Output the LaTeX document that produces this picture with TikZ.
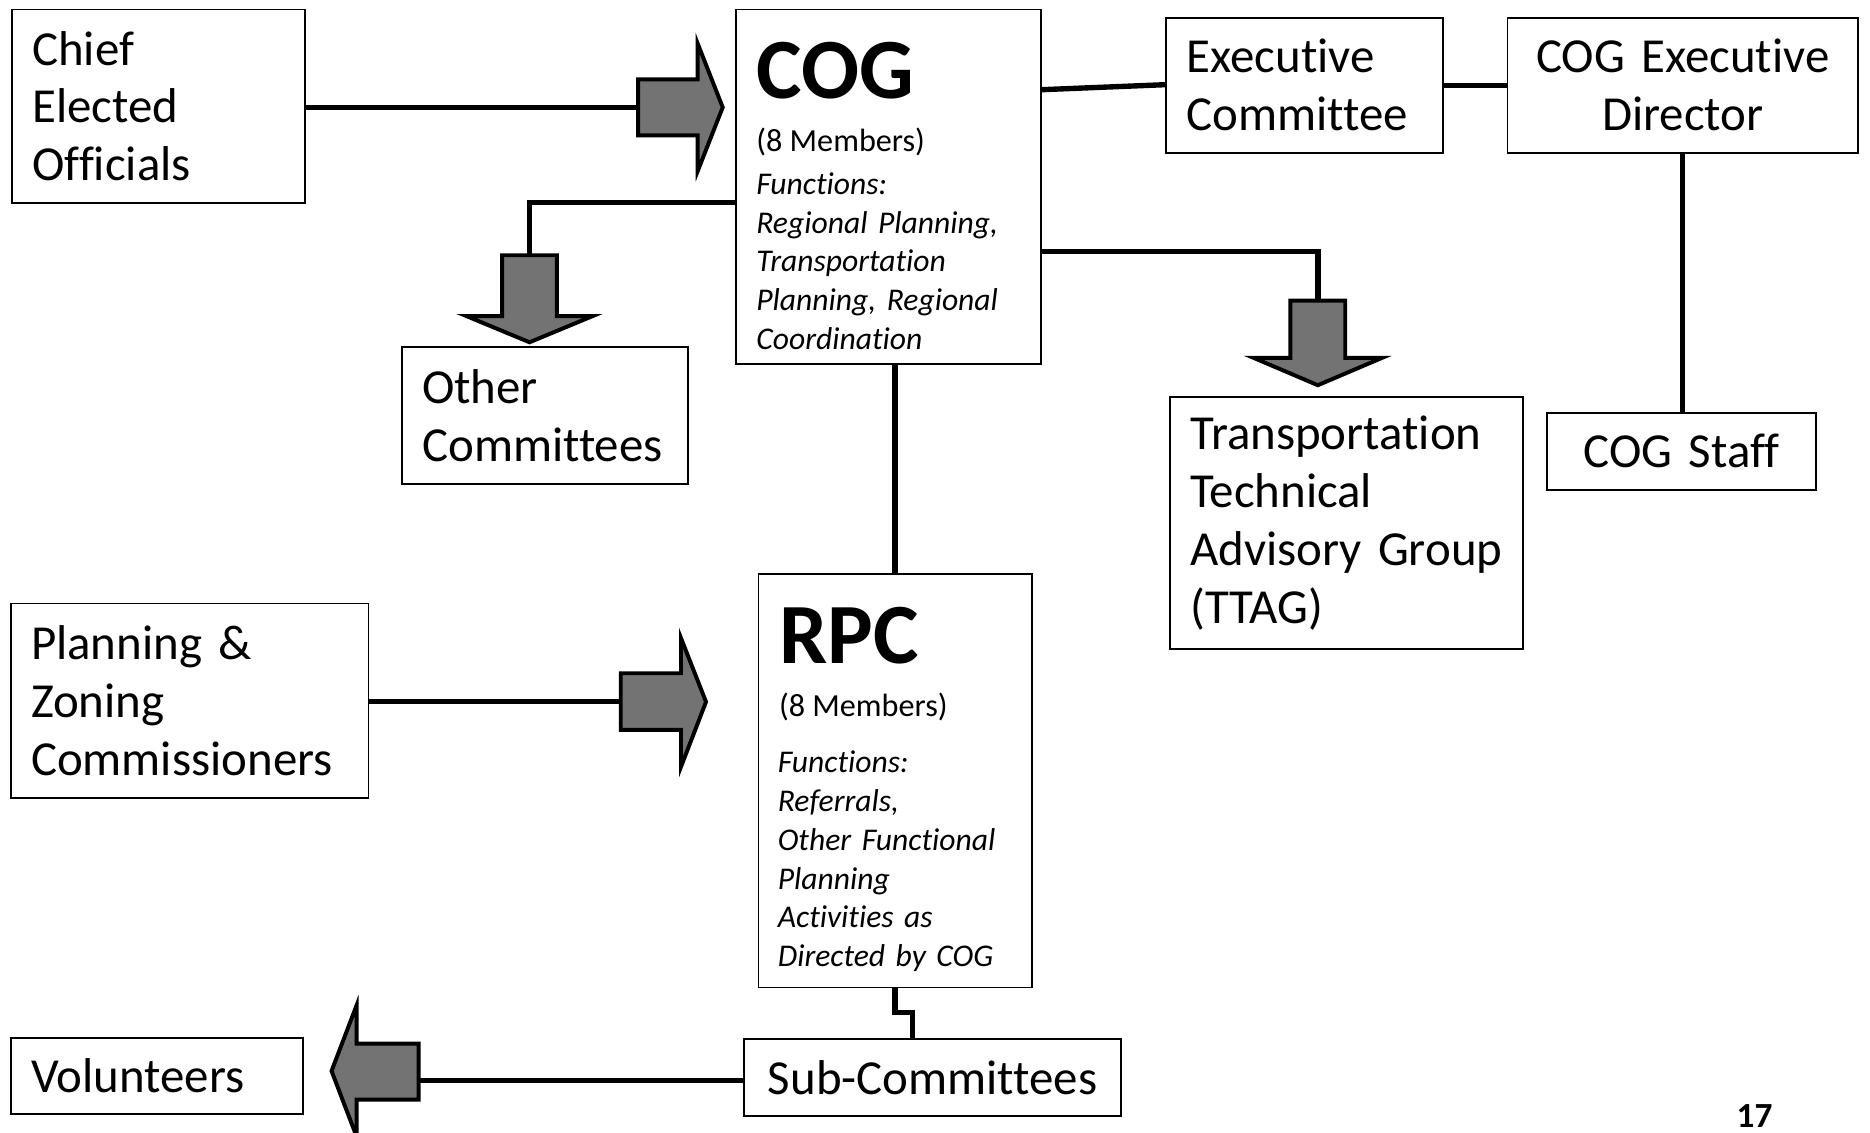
\documentclass[tikz,border=0pt]{standalone}
\usepackage{fontspec}
\setmainfont{Carlito}[Ligatures=NoCommon]
\begin{document}
\begin{tikzpicture}[x=1pt,y=-1pt,
  box/.style={draw, line width=1.6pt, inner xsep=17pt, inner ysep=0pt, align=left,
    font=\fontsize{41}{48.5}\selectfont},
  cbox/.style={box, align=center},
  conn/.style={line width=4.5pt},
  barrow/.style={fill=black!55, draw=black, line width=3.3pt, line join=miter},
  title/.style={inner sep=0pt, anchor=base west, font=\fontsize{72}{80}\selectfont\bfseries},
  memb/.style={inner sep=0pt, anchor=base west, font=\fontsize{27}{32.5}\selectfont},
  func/.style={inner sep=0pt, anchor=base west, align=left, text width=215pt,
    font=\fontsize{26.5}{32.5}\selectfont\itshape}]
\useasboundingbox (0,0) rectangle (1568,950);
\fill[white] (0,0) rectangle (1568,950);

% boxes
\node[box, text width=212pt, minimum width=246pt, minimum height=162pt] (chief) at (133,89) {Chief\\Elected\\Officials};
\node[draw, line width=1.6pt, minimum width=256pt, minimum height=297pt, inner sep=0pt] (cog) at (745,156.5) {};
\node[box, text width=198pt, minimum width=232pt, minimum height=113pt] (exec) at (1094,71.5) {Executive\\Committee};
\node[cbox, text width=260pt, minimum width=294pt, minimum height=113pt] (dir) at (1411,71.5) {COG Executive\\Director};
\node[box, text width=206pt, minimum width=240pt, minimum height=115pt] (other) at (457,348.5) {Other\\Committees};
\node[box, text width=262pt, minimum width=296pt, minimum height=211pt] (ttag) at (1129,438.5) {Transportation\\Technical\\Advisory Group\\(TTAG)};
\node[cbox, text width=192pt, minimum width=226pt, minimum height=65pt] (staff) at (1410,378.5) {COG Staff};
\node[box, text width=266pt, minimum width=300pt, minimum height=163pt] (plan) at (159,587.5) {Planning \&\\Zoning\\Commissioners};
\node[draw, line width=1.6pt, minimum width=229pt, minimum height=347pt, inner sep=0pt] (rpc) at (750.5,654.5) {};
\node[box, text width=211pt, minimum width=245pt, minimum height=64pt] (vol) at (131.5,902) {Volunteers};
\node[cbox, text width=282pt, minimum width=316pt, minimum height=65pt] (sub) at (782,903.5) {Sub-Committees};

% COG contents
\node[title] (cogt) at (634,83) {COG};
\node[memb] (cogm) at (634,127) {(8 Members)};
\node[func] (cogf) at (634,163) {Functions:\\Regional Planning,\\Transportation\\Planning, Regional\\Coordination};

% RPC contents
\node[title] (rpct) at (653,556) {RPC};
\node[memb] (rpcm) at (653,601) {(8 Members)};
\node[func] (rpcf) at (652,648) {Functions:\\Referrals,\\Other Functional\\Planning\\Activities as\\Directed by COG};

% page number
\node[inner sep=0pt, anchor=base west, font=\fontsize{29.6}{35}\selectfont\bfseries] (pg) at (1456,945) {17};

% coordinates for arrow tails and bends
\coordinate (a1) at (535,90);
\coordinate (k2) at (444,170);
\coordinate (a2) at (444,214);
\coordinate (k3) at (1105,211);
\coordinate (a3) at (1105,252);
\coordinate (a4) at (520.5,588);
\coordinate (k5) at (765,849);
\coordinate (a5) at (351,906);

% connectors
\draw[conn] (chief.east |- a1) -- (a1);
\draw[conn] (cog.west |- k2) -- (k2) -- (a2);
\draw[conn] (cog.east |- k3) -- (k3) -- (a3);
\draw[conn] ([yshift=-68pt]cog.north east) -- ([yshift=0.5pt]exec.west);
\draw[conn] (exec.east) -- (dir.west);
\draw[conn] (dir.south) -- (dir.south |- staff.north);
\draw[conn] (rpc.north) -- (rpc.north |- cog.south);
\draw[conn] (plan.east |- a4) -- (a4);
\draw[conn] (rpc.south) -- (rpc.south |- k5) -- (k5) -- (k5 |- sub.north);
\draw[conn] (sub.west |- a5) -- (a5);

% block arrows
\draw[barrow] (535,66.5) -- (585,66.5) -- (585,36.5) -- (606,90) -- (585,143.5) -- (585,113.5) -- (535,113.5) -- cycle;
\draw[barrow] (421,214) -- (421,265) -- (391,265) -- (444,287) -- (497,265) -- (467,265) -- (467,214) -- cycle;
\draw[barrow] (1082,252) -- (1082,300) -- (1051,300) -- (1105,323) -- (1159,300) -- (1128,300) -- (1128,252) -- cycle;
\draw[barrow] (520.5,564.5) -- (571,564.5) -- (571,535) -- (592,588.5) -- (571,643) -- (571,612) -- (520.5,612) -- cycle;
\draw[barrow] (351,875) -- (299,875) -- (299,843) -- (278,898) -- (299,953) -- (299,922) -- (351,922) -- cycle;
\end{tikzpicture}
\end{document}
